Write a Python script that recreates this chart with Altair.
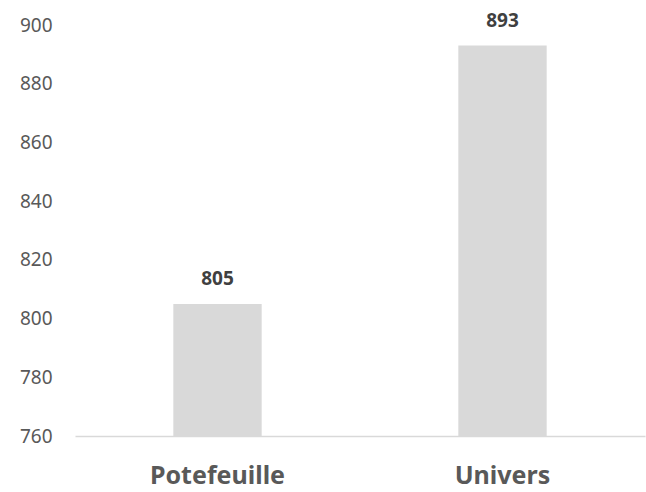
import altair as alt
import pandas as pd

categories = ["Potefeuille", "Univers"]
values = [805, 893]
axis_min = 760

df = pd.DataFrame({"cat": categories, "val": values})

FONT = "Noto Sans"

base = alt.Chart(df).encode(
    x=alt.X("cat:N", sort=categories, title=None,
            scale=alt.Scale(paddingInner=0.69, paddingOuter=0.345),
            axis=alt.Axis(labelAngle=0, labelFont=FONT, labelFontSize=25,
                          labelFontWeight="bold", labelColor="#595959",
                          labelPadding=27, ticks=False, domainColor="#d9d9d9",
                          domainWidth=1.5, grid=False)),
    y=alt.Y("val:Q", title=None,
            scale=alt.Scale(domain=[760, 900], nice=False, zero=False),
            axis=alt.Axis(values=[760, 780, 800, 820, 840, 860, 880, 900],
                          labelFont=FONT, labelFontSize=19, labelColor="#595959",
                          labelPadding=23, ticks=False, domain=False, grid=False)),
)

bars = base.mark_bar(color="#d9d9d9").encode(y2=alt.datum(axis_min))
labels = base.mark_text(dy=-25, baseline="middle", font=FONT, fontSize=19,
                        fontWeight="bold", color="#404040").encode(text="val:Q")

chart = (bars + labels).properties(
    width=570, height=411,
    autosize=alt.AutoSizeParams(type="none"),
    padding={"left": 75, "top": 25, "right": 1, "bottom": 56},
    background="white",
).configure_view(stroke=None)

chart.save("out.html", embed_options={"renderer": "svg", "actions": False})
